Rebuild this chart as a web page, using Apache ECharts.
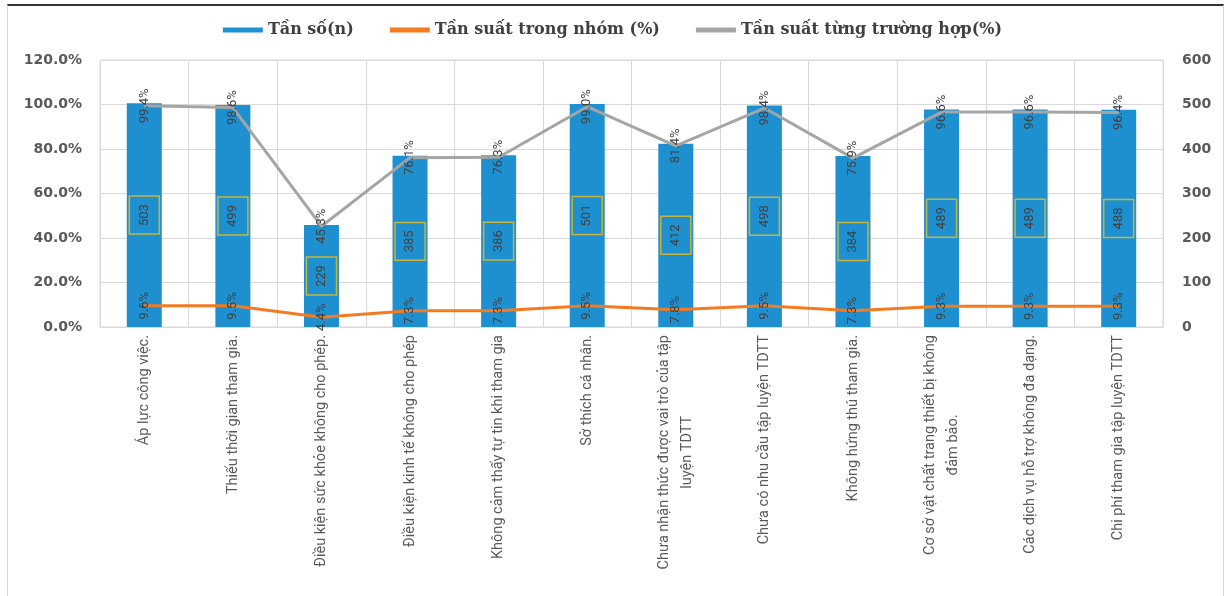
<!DOCTYPE html>
<html style="height: 100%">
   <head>
       <meta charset="utf-8">
   </head>
   <body style="height: 100%; margin: 0; background: #fff">
       <div id="frame" style="position: absolute; left: 7px; top: 4px; width: 1215px; height: 592px; border-top: 2px solid #333; border-left: 1px solid #d9d9d9; border-right: 1px solid #d9d9d9; pointer-events: none; z-index: 2"></div>
       <div id="container" style="position: absolute; left: 0; top: 0; width: 1225px; height: 596px"></div>
       <script type="text/javascript" src="https://cdn.jsdelivr.net/npm/echarts@6/dist/echarts.min.js"></script>
       <script type="text/javascript">
var categories = [
    'Áp lực công việc.',
    'Thiếu thời gian tham gia.',
    'Điều kiện sức khỏe không cho phép.',
    'Điều kiện kinh tế không cho phép',
    'Không cảm thấy tự tin khi tham gia',
    'Sở thích cá nhân.',
    'Chưa nhận thức được vai trò của tập\nluyện TDTT',
    'Chưa có nhu cầu tập luyện TDTT',
    'Không hứng thú tham gia.',
    'Cơ sở vật chất trang thiết bị không\nđảm bảo.',
    'Các dịch vụ hỗ trợ không đa dạng.',
    'Chi phí tham gia tập luyện TDTT'
];
var tanSo = [503, 499, 229, 385, 386, 501, 412, 498, 384, 489, 489, 488];
var tanSuatNhom = [9.6, 9.5, 4.4, 7.3, 7.3, 9.5, 7.8, 9.5, 7.3, 9.3, 9.3, 9.3];
var tanSuatTruongHop = [99.4, 98.6, 45.3, 76.1, 76.3, 99.0, 81.4, 98.4, 75.9, 96.6, 96.6, 96.4];

var dom = document.getElementById("container");
var myChart = echarts.init(dom);
var option;

var labelFont = 'Roboto, "Liberation Sans", sans-serif';
var catFontSize = 14.5;

// two-line category labels: centre the lines on each other
var ctx = document.createElement('canvas').getContext('2d');
ctx.font = catFontSize + 'px ' + labelFont;
function catLabel(value) {
    var lines = value.split('\n');
    if (lines.length < 2) return value;
    var w = 0;
    lines.forEach(function (l) { w = Math.max(w, Math.ceil(ctx.measureText(l).width)); });
    catRich.c.width = w;
    return lines.map(function (l) { return '{c|' + l + '}'; }).join('\n');
}
var catRich = {c: {align: 'center', color: '#595959', fontFamily: labelFont, fontSize: catFontSize, lineHeight: 23}};

var pctLabel = {
    show: true,
    position: 'inside',
    rotate: 90,
    color: '#404040',
    fontFamily: labelFont,
    fontSize: 13,
    formatter: function (p) { return p.value.toFixed(1) + '%'; }
};

option = {
    animation: false,
    legend: {
        top: 17,
        left: 'center',
        itemWidth: 40,
        itemHeight: 5,
        itemGap: 36,
        textStyle: {
            fontFamily: '"DejaVu Serif", "Liberation Serif", serif',
            fontWeight: 'bold',
            fontSize: 16,
            color: '#404040'
        },
        data: [
            {name: 'Tần số(n)', icon: 'rect'},
            {name: 'Tần suất trong nhóm (%)', icon: 'rect'},
            {name: 'Tần suất từng trường hợp(%)', icon: 'rect'}
        ]
    },
    grid: {
        left: 100,
        right: 62,
        top: 60,
        bottom: 269,
        show: true,
        borderColor: '#d9d9d9',
        borderWidth: 1
    },
    xAxis: {
        type: 'category',
        data: categories,
        axisLine: {lineStyle: {color: '#d9d9d9'}},
        axisTick: {show: false},
        splitLine: {show: true, lineStyle: {color: '#d9d9d9'}},
        axisLabel: {
            interval: 0,
            rotate: 90,
            margin: 8,
            color: '#595959',
            fontFamily: labelFont,
            fontSize: catFontSize,
            lineHeight: 23,
            formatter: catLabel,
            rich: catRich
        }
    },
    yAxis: [
        {
            type: 'value',
            min: 0,
            max: 120,
            interval: 20,
            axisLine: {show: false},
            axisTick: {show: false},
            splitLine: {lineStyle: {color: '#d9d9d9'}},
            axisLabel: {
                margin: 18,
                color: '#595959',
                fontFamily: '"DejaVu Sans", sans-serif',
                fontWeight: 'bold',
                fontSize: 14,
                formatter: function (v) { return v.toFixed(1) + '%'; }
            }
        },
        {
            type: 'value',
            min: 0,
            max: 600,
            interval: 100,
            axisLine: {show: false},
            axisTick: {show: false},
            splitLine: {show: false},
            axisLabel: {
                margin: 19,
                color: '#595959',
                fontFamily: '"DejaVu Sans", sans-serif',
                fontWeight: 'bold',
                fontSize: 14
            }
        }
    ],
    series: [
        {
            name: 'Tần số(n)',
            type: 'bar',
            yAxisIndex: 1,
            barWidth: 35,
            data: tanSo,
            itemStyle: {color: '#1e90cf'},
            label: {
                show: true,
                position: 'inside',
                rotate: 90,
                color: '#404040',
                fontFamily: labelFont,
                fontSize: 13,
                borderColor: '#c8b43a',
                borderWidth: 1.5,
                padding: [9, 8, 8, 8]
            }
        },
        {
            name: 'Tần suất trong nhóm (%)',
            type: 'line',
            yAxisIndex: 0,
            data: tanSuatNhom,
            symbol: 'circle',
            symbolSize: 1,
            itemStyle: {color: '#f47b20'},
            lineStyle: {color: '#f47b20', width: 3},
            label: pctLabel,
            z: 3
        },
        {
            name: 'Tần suất từng trường hợp(%)',
            type: 'line',
            yAxisIndex: 0,
            data: tanSuatTruongHop,
            symbol: 'circle',
            symbolSize: 1,
            itemStyle: {color: '#a5a5a5'},
            lineStyle: {color: '#a5a5a5', width: 3},
            label: pctLabel,
            z: 4
        }
    ]
};

if (option && typeof option === "object") {
    myChart.setOption(option, true);
}
       </script>
   </body>
</html>
